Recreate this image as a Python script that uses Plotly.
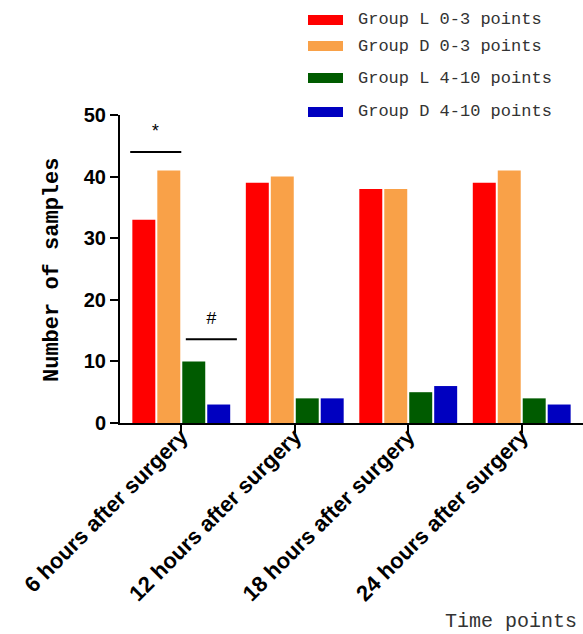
import plotly.graph_objects as go

categories = ["6 hours after surgery", "12 hours after surgery", "18 hours after surgery", "24 hours after surgery"]
series_names = ["Group L 0-3 points", "Group D 0-3 points", "Group L 4-10 points", "Group D 4-10 points"]
group_l_low = [33, 39, 38, 39]
group_d_low = [41, 40, 38, 41]
group_l_high = [10, 4, 5, 4]
group_d_high = [3, 4, 6, 3]
colors = ["#ff0000", "#f9a148", "#005b00", "#0000c0"]
y_ticks = [0, 10, 20, 30, 40, 50]

W, H = 583, 634
L, R, T, B = 120, 0, 115, 211
pw, ph = W - L - R, H - T - B

def px_x(p):
    return (p - L) / pw

def px_y(p):
    return (H - B - p) / ph

fig = go.Figure()
for name, vals, col in zip(series_names, [group_l_low, group_d_low, group_l_high, group_d_high], colors):
    fig.add_trace(go.Bar(x=list(range(len(categories))), y=vals, name=name,
                         marker=dict(color=col, line=dict(width=0)), showlegend=False))

mono = "Liberation Mono, DejaVu Sans Mono, monospace"
fig.update_layout(
    width=W, height=H, margin=dict(l=L, r=R, t=T, b=B, autoexpand=False),
    paper_bgcolor="white", plot_bgcolor="white",
    barmode="group", bargap=0.12, bargroupgap=0.08,
    xaxis=dict(range=[-0.54, 3.54], tickmode="array", tickvals=list(range(len(categories))),
               ticktext=categories, tickangle=-45, ticks="outside", ticklen=8, tickwidth=2,
               tickcolor="black", showline=True, linecolor="black", linewidth=2,
               showgrid=False, zeroline=False, automargin=False, ticklabelstandoff=-18,
               tickfont=dict(family="Liberation Sans, Arial", size=22, color="black", weight="bold")),
    yaxis=dict(range=[0, 50], tickvals=y_ticks, ticks="outside", ticklen=8, tickwidth=2,
               tickcolor="black", showline=True, linecolor="black", linewidth=2,
               showgrid=False, zeroline=False, automargin=False,
               tickfont=dict(family="Liberation Sans, Arial", size=20, color="black", weight="bold")),
)

# y axis title
fig.add_annotation(x=px_x(52), y=px_y(270), xref="paper", yref="paper", text="Number of samples",
                   showarrow=False, textangle=-90, xanchor="center", yanchor="middle",
                   font=dict(family=mono, size=22, color="black", weight="bold"))

# significance marks
fig.add_shape(type="line", xref="x", yref="y", x0=-0.45, x1=0.0, y0=44, y1=44,
              line=dict(color="black", width=2))
fig.add_annotation(x=-0.225, y=47.3, xref="x", yref="y", text="*", showarrow=False,
                   font=dict(family=mono, size=18, color="black"))
fig.add_shape(type="line", xref="x", yref="y", x0=0.04, x1=0.49, y0=13.6, y1=13.6,
              line=dict(color="black", width=2))
fig.add_annotation(x=0.265, y=16.9, xref="x", yref="y", text="#", showarrow=False,
                   font=dict(family=mono, size=18, color="black"))

# legend
leg_y = [20, 46, 78, 112]
for name, col, yy in zip(series_names, colors, leg_y):
    fig.add_shape(type="rect", xref="paper", yref="paper",
                  x0=px_x(308), x1=px_x(343), y0=px_y(yy + 5), y1=px_y(yy - 5),
                  fillcolor=col, line=dict(width=0))
    fig.add_annotation(x=px_x(356), y=px_y(yy), xref="paper", yref="paper", text=name,
                       showarrow=False, xanchor="left", yanchor="middle",
                       font=dict(family=mono, size=17, color="#333333"))

fig.add_annotation(x=px_x(579), y=px_y(621), xref="paper", yref="paper", text="Time points",
                   showarrow=False, xanchor="right", yanchor="middle",
                   font=dict(family=mono, size=20, color="#333333"))

fig.write_html("out.html", post_script="document.body.style.margin='0';",
               config={"displayModeBar": False})
